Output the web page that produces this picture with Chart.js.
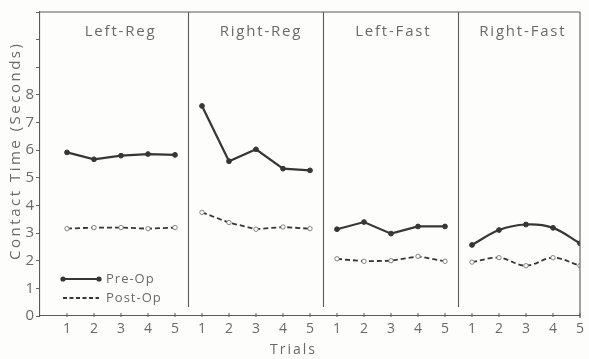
<!DOCTYPE html>
<html>
<head>
<meta charset="utf-8">
<script src="https://cdn.jsdelivr.net/npm/chart.js@4/dist/chart.umd.min.js"></script>
<style>
  html, body { margin: 0; padding: 0; background: #fdfdfb; }
  #wrap { width: 589px; height: 359px; }
</style>
</head>
<body>
<div id="wrap"><canvas id="c" width="589" height="359"></canvas></div>
<script>
// Contact time per trial, four conditions, before and after the operation
const trialLabels = ['1', '2', '3', '4', '5'];
const panelNames = ['Left-Reg', 'Right-Reg', 'Left-Fast', 'Right-Fast'];
const yTickLabels = ['0', '1', '2', '3', '4', '5', '6', '7', '8'];

const preOpLeftReg   = [5.92, 5.67, 5.80, 5.86, 5.83];
const preOpRightReg  = [7.60, 5.60, 6.03, 5.33, 5.27];
const preOpLeftFast  = [3.14, 3.40, 2.98, 3.24, 3.24];
const preOpRightFast = [2.57, 3.11, 3.31, 3.19, 2.63];

const postOpLeftReg   = [3.16, 3.20, 3.20, 3.16, 3.20];
const postOpRightReg  = [3.75, 3.38, 3.14, 3.22, 3.16];
const postOpLeftFast  = [2.07, 1.98, 2.00, 2.16, 1.98];
const postOpRightFast = [1.95, 2.11, 1.82, 2.11, 1.82];

const preOp  = [preOpLeftReg, preOpRightReg, preOpLeftFast, preOpRightFast];
const postOp = [postOpLeftReg, postOpRightReg, postOpLeftFast, postOpRightFast];

const INK = '#363636';
const TEXT = '#6a6a6a';
const FONT = '"Open Sans", "DejaVu Sans", sans-serif';

// each panel occupies five consecutive positions on a shared x scale
const toPoints = (vals, p) => vals.map((v, i) => ({ x: p * 5 + i + 1, y: v }));

const datasets = [];
panelNames.forEach((name, p) => {
  const smooth = p === 3 ? 0.35 : 0;
  datasets.push({
    label: 'Pre-Op ' + name,
    data: toPoints(preOp[p], p),
    borderColor: INK, backgroundColor: INK,
    borderWidth: 2.2, pointRadius: 2.4, pointBorderWidth: 1,
    pointBackgroundColor: INK, pointBorderColor: INK, tension: smooth
  });
  datasets.push({
    label: 'Post-Op ' + name,
    data: toPoints(postOp[p], p),
    borderColor: INK, backgroundColor: '#fdfdfb',
    borderWidth: 1.8, borderDash: [5, 3], pointRadius: 2.2,
    pointBorderWidth: 0.9, pointBackgroundColor: '#fdfdfb',
    pointBorderColor: '#777', tension: smooth
  });
});

function spacedText(ctx, text, x, y, spacing) {
  ctx.save();
  ctx.letterSpacing = spacing + 'px';
  const w = ctx.measureText(text).width - spacing;
  ctx.textAlign = 'left';
  ctx.fillText(text, x - w / 2, y);
  ctx.restore();
}

const frame = {
  id: 'frame',
  afterDraw(chart) {
    const { ctx, chartArea: a, scales: { x, y } } = chart;
    ctx.save();
    ctx.strokeStyle = '#5a5a5a';
    ctx.lineWidth = 1.1;
    // outer top and right edges
    ctx.beginPath();
    ctx.moveTo(a.left, a.top); ctx.lineTo(a.right, a.top);
    ctx.moveTo(a.right, a.top); ctx.lineTo(a.right, a.bottom + 2);
    ctx.stroke();
    // panel dividers
    [5.5, 10.5, 15.5].forEach(v => {
      const px = x.getPixelForValue(v);
      ctx.beginPath();
      ctx.moveTo(px, a.top); ctx.lineTo(px, a.bottom - 9);
      ctx.stroke();
    });
    // small tick marks at every trial position
    ctx.lineWidth = 1;
    for (let v = 1; v <= 20; v++) {
      const px = x.getPixelForValue(v);
      ctx.beginPath();
      ctx.moveTo(px, a.bottom - 3); ctx.lineTo(px, a.bottom + 1);
      ctx.stroke();
    }
    // panel titles
    ctx.fillStyle = TEXT;
    ctx.font = '15px ' + FONT;
    ctx.textBaseline = 'middle';
    const titleX = [2.95, 8.15, 13.05, 17.85];
    panelNames.forEach((n, i) => spacedText(ctx, n, x.getPixelForValue(titleX[i]), 32, 1.8));
    // axis titles
    ctx.font = '14px ' + FONT;
    spacedText(ctx, 'Trials', x.getPixelForValue(9.35), 350, 2);
    ctx.save();
    ctx.translate(16, 152);
    ctx.rotate(-Math.PI / 2);
    ctx.font = '15px ' + FONT;
    spacedText(ctx, 'Contact Time (Seconds)', 0, 0, 2.5);
    ctx.restore();
    // legend
    const lx0 = 63, lx1 = 99;
    const yPre = 279, yPost = 298;
    ctx.strokeStyle = INK; ctx.fillStyle = INK;
    ctx.lineWidth = 2.2;
    ctx.beginPath(); ctx.moveTo(lx0, yPre); ctx.lineTo(lx1, yPre); ctx.stroke();
    [lx0, lx1].forEach(px => { ctx.beginPath(); ctx.arc(px, yPre, 2.6, 0, Math.PI * 2); ctx.fill(); });
    ctx.setLineDash([4, 2.5]);
    ctx.lineWidth = 1.8;
    ctx.beginPath(); ctx.moveTo(lx0, yPost); ctx.lineTo(lx1, yPost); ctx.stroke();
    ctx.setLineDash([]);
    ctx.fillStyle = TEXT;
    ctx.font = '13px ' + FONT;
    ctx.textAlign = 'left';
    ctx.save(); ctx.letterSpacing = '1px';
    ctx.fillText('Pre-Op', 106, yPre);
    ctx.fillText('Post-Op', 106, yPost);
    ctx.restore();
    ctx.restore();
  }
};

new Chart(document.getElementById('c'), {
  type: 'line',
  data: { datasets },
  options: {
    responsive: false,
    animation: false,
    events: [],
    layout: { padding: { top: 12, right: 1, left: 0, bottom: 0 } },
    plugins: { legend: { display: false }, tooltip: { enabled: false } },
    scales: {
      x: {
        type: 'linear', min: 0, max: 20,
        afterFit: s => { s.height = 43; },
        grid: { display: false, drawTicks: false },
        border: { display: true, color: '#5a5a5a', width: 1.1 },
        ticks: {
          stepSize: 1, autoSkip: false, maxRotation: 0, padding: 5,
          color: TEXT, font: { family: FONT, size: 14 },
          callback: v => (v >= 1 && Number.isInteger(v)) ? trialLabels[(v - 1) % 5] : ''
        }
      },
      y: {
        min: 0, max: 11,
        afterFit: s => { s.width = 40; },
        grid: { drawOnChartArea: false, drawTicks: true, tickLength: 4, color: '#666' },
        border: { display: true, color: '#5a5a5a', width: 1.1 },
        ticks: {
          stepSize: 1, padding: 2,
          color: TEXT, font: { family: FONT, size: 15 },
          callback: v => yTickLabels[v] !== undefined ? yTickLabels[v] : ''
        }
      }
    }
  },
  plugins: [frame]
});
</script>
</body>
</html>
